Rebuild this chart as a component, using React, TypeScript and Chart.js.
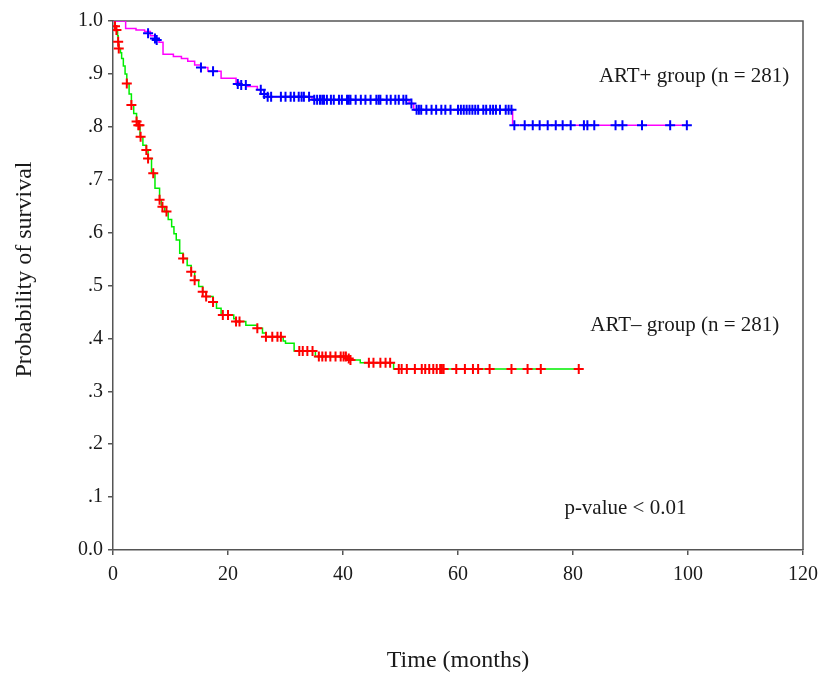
import React, { useEffect, useRef } from "react";
import { Chart, registerables } from "chart.js";

Chart.register(...registerables);

// ART+ group: Kaplan-Meier steps (time in months, survival after the step)
const artPlusTimes = [0, 2.2, 4.0, 5.5, 6.5, 7.3, 8.0, 8.7, 10.5, 11.9, 13.0, 14.2, 15.3, 16.5, 18.8, 21.4, 22.0, 23.4, 25.1, 26.3, 27.0, 34.6, 51.5, 52.3, 69.5, 100];
const artPlusSurvival = [1, 0.986, 0.983, 0.98, 0.972, 0.967, 0.96, 0.937, 0.933, 0.929, 0.924, 0.917, 0.912, 0.905, 0.892, 0.884, 0.879, 0.876, 0.87, 0.862, 0.857, 0.851, 0.844, 0.832, 0.803, 0.803];

// ART+ censored observations [time, survival]
const artPlusCensored: [number, number][] = [
  [6.1, 0.977], [7.3, 0.967], [7.6, 0.964], [15.3, 0.912], [17.4, 0.905], [21.7, 0.881], [22.3, 0.879], [23.1, 0.879],
  [25.7, 0.87], [26.3, 0.862], [26.9, 0.857], [27.5, 0.857], [29.2, 0.857], [30.0, 0.857], [30.9, 0.857], [31.5, 0.857],
  [32.3, 0.857], [32.8, 0.857], [33.2, 0.857], [34.1, 0.857],
  [35.0, 0.851], [35.5, 0.851], [36.0, 0.851], [36.4, 0.851], [36.7, 0.851], [37.2, 0.851], [37.9, 0.851], [38.4, 0.851],
  [39.3, 0.851], [39.8, 0.851], [40.7, 0.851], [41.0, 0.851], [41.3, 0.851], [42.2, 0.851], [43.1, 0.851], [43.9, 0.851],
  [44.8, 0.851], [45.8, 0.851], [46.2, 0.851], [46.5, 0.851], [47.6, 0.851], [48.3, 0.851], [49.1, 0.851], [49.7, 0.851],
  [50.5, 0.851], [51.0, 0.851], [51.9, 0.844],
  [52.8, 0.832], [53.2, 0.832], [53.6, 0.832], [54.5, 0.832], [55.4, 0.832], [56.2, 0.832], [57.1, 0.832], [57.8, 0.832],
  [58.7, 0.832], [60.0, 0.832], [60.5, 0.832], [61.0, 0.832], [61.5, 0.832], [62.0, 0.832], [62.5, 0.832], [63.0, 0.832],
  [63.5, 0.832], [64.4, 0.832], [64.9, 0.832], [65.6, 0.832], [66.1, 0.832], [66.6, 0.832], [67.3, 0.832], [68.3, 0.832],
  [68.8, 0.832], [69.3, 0.832],
  [69.8, 0.803], [71.6, 0.803], [73.0, 0.803], [74.2, 0.803], [75.6, 0.803], [77.0, 0.803], [78.2, 0.803], [79.6, 0.803],
  [81.9, 0.803], [82.5, 0.803], [83.7, 0.803], [87.4, 0.803], [88.6, 0.803], [92.0, 0.803], [96.9, 0.803], [99.8, 0.803],
];

// ART- group: Kaplan-Meier steps
const artMinusTimes = [0, 0.3, 0.5, 0.8, 0.9, 1.0, 1.3, 1.5, 1.8, 2.1, 2.4, 2.8, 3.2, 3.6, 4.1, 4.4, 4.7, 5.2, 5.8, 6.1, 6.7, 7.3, 8.1, 8.4, 9.0, 9.6, 10.2, 10.6, 11.0, 11.6, 12.2, 12.9, 13.6, 14.2, 14.9, 15.6, 16.2, 17.4, 18.0, 18.8, 21.0, 21.4, 23.1, 25.1, 26.0, 26.6, 29.6, 30.0, 31.5, 35.2, 40.8, 41.2, 43.0, 48.8, 81.0];
const artMinusSurvival = [1, 0.99, 0.983, 0.972, 0.961, 0.948, 0.94, 0.929, 0.915, 0.9, 0.882, 0.862, 0.841, 0.825, 0.81, 0.803, 0.781, 0.765, 0.756, 0.74, 0.712, 0.684, 0.662, 0.649, 0.64, 0.625, 0.611, 0.598, 0.586, 0.561, 0.551, 0.538, 0.526, 0.51, 0.498, 0.488, 0.479, 0.469, 0.457, 0.444, 0.437, 0.432, 0.425, 0.419, 0.41, 0.403, 0.395, 0.391, 0.376, 0.366, 0.362, 0.359, 0.354, 0.342, 0.342];

// ART- censored observations [time, survival]
const artMinusCensored: [number, number][] = [
  [0.35, 0.99], [0.6, 0.983], [0.9, 0.961], [1.0, 0.948], [2.4, 0.882], [3.2, 0.841], [4.1, 0.81], [4.4, 0.803],
  [4.6, 0.803], [4.8, 0.781], [5.8, 0.756], [6.1, 0.74], [7.0, 0.712], [8.1, 0.662], [8.6, 0.649], [9.3, 0.64],
  [12.2, 0.551], [13.6, 0.526], [14.2, 0.51], [15.6, 0.488], [16.2, 0.479], [17.4, 0.469], [19.1, 0.444], [20.0, 0.444],
  [21.4, 0.432], [22.0, 0.432], [25.1, 0.419], [26.6, 0.403], [27.7, 0.403], [28.6, 0.403], [29.2, 0.403],
  [32.4, 0.376], [33.0, 0.376], [33.8, 0.376], [34.7, 0.376], [35.8, 0.366], [36.4, 0.366], [37.0, 0.366], [37.8, 0.366],
  [38.7, 0.366], [39.6, 0.366], [40.1, 0.366], [40.5, 0.366], [41.0, 0.362], [41.3, 0.359], [44.5, 0.354], [45.3, 0.354],
  [46.5, 0.354], [47.4, 0.354], [48.2, 0.354], [49.7, 0.342], [50.2, 0.342], [51.1, 0.342], [52.5, 0.342], [53.7, 0.342],
  [54.3, 0.342], [55.0, 0.342], [55.7, 0.342], [56.3, 0.342], [56.9, 0.342], [57.2, 0.342], [57.5, 0.342], [59.7, 0.342],
  [61.2, 0.342], [62.6, 0.342], [63.5, 0.342], [65.5, 0.342], [69.3, 0.342], [72.1, 0.342], [74.4, 0.342], [81.0, 0.342],
];

const xTicks = [0, 20, 40, 60, 80, 100, 120];
const yTickLabels = ["0.0", ".1", ".2", ".3", ".4", ".5", ".6", ".7", ".8", ".9", "1.0"];

// text annotations placed in data coordinates [x, y, text]
const annotations: [number, number, string][] = [
  [84.5, 0.896, "ART+ group (n = 281)"],
  [83.0, 0.425, "ART\u2013 group (n = 281)"],
  [78.5, 0.079, "p-value < 0.01"],
];

const xTitle = "Time (months)";
const yTitle = "Probability of survival";

const SERIF = '"Liberation Serif", "Times New Roman", serif';
const AXIS = "#555555";

export default function App() {
  const ref = useRef<HTMLCanvasElement | null>(null);

  useEffect(() => {
    if (!ref.current) return;

    const overlay = {
      id: "overlay",
      beforeDatasetsDraw(chart: any) {
        const { ctx, chartArea: a } = chart;
        ctx.save();
        ctx.strokeStyle = AXIS;
        ctx.lineWidth = 1.5;
        ctx.beginPath();
        ctx.moveTo(a.left, a.top);
        ctx.lineTo(a.right, a.top);
        ctx.lineTo(a.right, a.bottom);
        ctx.stroke();
        ctx.restore();
      },
      afterDraw(chart: any) {
        const { ctx, chartArea: a, scales } = chart;
        ctx.save();
        ctx.fillStyle = "#1a1a1a";
        ctx.font = `21px ${SERIF}`;
        ctx.textAlign = "left";
        ctx.textBaseline = "middle";
        annotations.forEach(([x, y, t]) => {
          ctx.fillText(t, scales.x.getPixelForValue(x), scales.y.getPixelForValue(y));
        });
        ctx.translate(25, (a.top + a.bottom) / 2 - 16);
        ctx.rotate(-Math.PI / 2);
        ctx.font = `24px ${SERIF}`;
        ctx.textAlign = "center";
        ctx.fillText(yTitle, 0, 0);
        ctx.restore();
      },
    };

    const chart = new Chart(ref.current, {
      type: "scatter",
      data: {
        datasets: [
          {
            label: "ART+ censored",
            data: artPlusCensored.map(([x, y]) => ({ x, y })),
            pointStyle: "cross",
            pointRadius: 5,
            borderColor: "#0000ff",
            backgroundColor: "#0000ff",
            borderWidth: 2,
            showLine: false,
          },
          {
            label: "ART- censored",
            data: artMinusCensored.map(([x, y]) => ({ x, y })),
            pointStyle: "cross",
            pointRadius: 5,
            borderColor: "#ff0000",
            backgroundColor: "#ff0000",
            borderWidth: 2,
            showLine: false,
          },
          {
            label: "ART+",
            data: artPlusTimes.map((x, i) => ({ x, y: artPlusSurvival[i] })),
            showLine: true,
            stepped: true,
            pointRadius: 0,
            borderColor: "#ff00ff",
            borderWidth: 1.5,
          },
          {
            label: "ART-",
            data: artMinusTimes.map((x, i) => ({ x, y: artMinusSurvival[i] })),
            showLine: true,
            stepped: true,
            pointRadius: 0,
            borderColor: "#00ee00",
            borderWidth: 1.5,
          },
        ],
      },
      options: {
        animation: false,
        responsive: false,
        layout: { padding: { left: 0, top: 21, right: 16, bottom: 0 } },
        plugins: { legend: { display: false }, tooltip: { enabled: false } },
        scales: {
          x: {
            type: "linear",
            min: 0,
            max: 120,
            afterBuildTicks: (s: any) => {
              s.ticks = xTicks.map((v) => ({ value: v }));
            },
            afterFit: (s: any) => {
              s.height = 125;
            },
            ticks: {
              color: "#1a1a1a",
              font: { family: SERIF, size: 20 },
              padding: 8,
              maxRotation: 0,
              callback: (v: any) => String(v),
            },
            grid: { drawOnChartArea: false, drawTicks: true, tickLength: 5, color: AXIS, lineWidth: 1.5 },
            border: { color: AXIS, width: 1.5 },
            title: {
              display: true,
              text: xTitle,
              color: "#1a1a1a",
              font: { family: SERIF, size: 24 },
              padding: { top: 0, bottom: 0 },
            },
          },
          y: {
            type: "linear",
            min: 0,
            max: 1,
            afterBuildTicks: (s: any) => {
              s.ticks = yTickLabels.map((_, i) => ({ value: i / 10 }));
            },
            afterFit: (s: any) => {
              s.width = 113;
            },
            ticks: {
              color: "#1a1a1a",
              font: { family: SERIF, size: 20 },
              padding: 5,
              callback: (v: any) => yTickLabels[Math.round(Number(v) * 10)],
            },
            grid: { drawOnChartArea: false, drawTicks: true, tickLength: 5, color: AXIS, lineWidth: 1.5 },
            border: { color: AXIS, width: 1.5 },
          },
        },
      },
      plugins: [overlay],
    } as any);

    return () => chart.destroy();
  }, []);

  return (
    <div style={{ position: "fixed", left: 0, top: 0, width: 826, height: 675, background: "#fff" }}>
      <canvas ref={ref} width={826} height={675} style={{ display: "block" }} />
    </div>
  );
}
